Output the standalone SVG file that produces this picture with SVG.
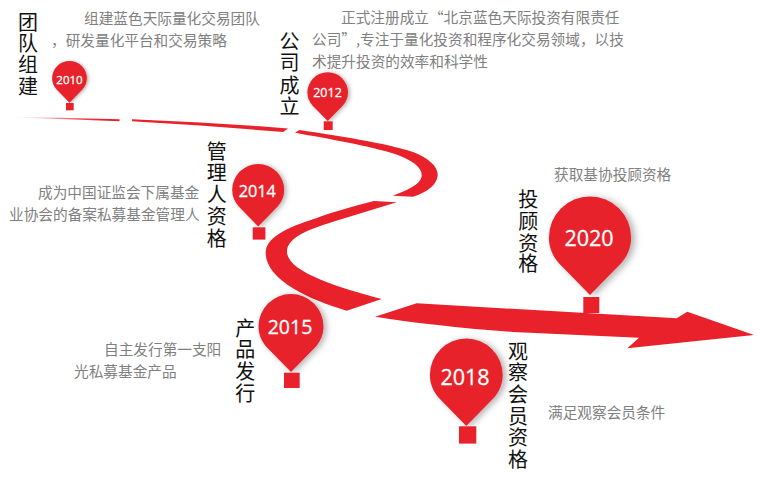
<svg xmlns="http://www.w3.org/2000/svg" width="760" height="496" viewBox="0 0 760 496">
<defs>
<style>
.d{font-family:"Noto Sans CJK SC","Liberation Sans",sans-serif;font-size:14.67px;fill:#808080}
.t{font-family:"Noto Sans CJK SC","Liberation Sans",sans-serif;font-size:20px;fill:#111;text-anchor:middle}
.y{font-family:"Open Sans","Liberation Sans",sans-serif;fill:#fff;stroke:#fff;stroke-width:.3px;text-anchor:middle}
.r{fill:#e8212b}
</style>
<filter id="s" x="-30%" y="-30%" width="170%" height="170%"><feDropShadow dx="3" dy="1" stdDeviation="3" flood-color="#000" flood-opacity=".3"/></filter>
<linearGradient id="fade" x1="10" y1="0" x2="100" y2="0" gradientUnits="userSpaceOnUse"><stop offset="0" stop-color="#e8212b" stop-opacity="0"/><stop offset="1" stop-color="#e8212b"/></linearGradient>
<path id="pin" d="M0 45.500L-24 21C-29.500 15-32.500 8-32.500 0A32.500 32.500 0 0 1 32.500 0C32.500 8 29.500 15 24 21Z"/>
</defs>
<g id="connectors">
<path fill="url(#fade)" d="M10 117.300L60 117.800L119.500 119.300L119.500 121.200L60 119Z"/>
<path class="r" d="M132 119.300L200 122.500L260 126.300L288 128.500L283.300 132L200 125.500L132 121.300Z"/>
<path class="r" d="M295 132.700L299.300 130C340 136 385 143 413 152C428 158 438 166 437.700 175C437 186 425 193 413 196.700L392.700 195.700C408 190 421.700 184 421.700 175C421.700 167 412 160 395 154C370 146 330 139 295 132.700Z"/>
<path class="r" d="M396.700 202.300L374 201C350 207 330 213 316.700 218C285 228 265.700 238 265.700 253C265.700 280 310 300 346.700 310.700L381.700 299C340 288 287 272 287 251.700C287 237 310 229 333 221.700Z"/>
<path class="r" d="M375 316.700L416.700 303.300L676.700 318.300L687.300 311.700L754 335L627.300 348.300L639 337.700L513 332C460 328 415 323 375 316.700Z"/>
</g>
<g id="n2010">
<use href="#pin" class="r" filter="url(#s)" transform="translate(69.500 78.300) scale(.535)"/>
<rect class="r" x="66" y="103" width="7.700" height="7.300"/>
<text class="y" x="69.500" y="83.500" font-size="11.500">2010</text>
<text class="t"><tspan x="28" y="29.500">团</tspan><tspan x="28" y="51">队</tspan><tspan x="28" y="71.500">组</tspan><tspan x="28" y="93.500">建</tspan></text>
<text class="d" x="84" y="24">组建蓝色天际量化交易团队</text>
<text class="d" x="51" y="46">，研发量化平台和交易策略</text>
</g>
<g id="n2012">
<use href="#pin" class="r" filter="url(#s)" transform="translate(327.700 92.600) scale(.625)"/>
<rect class="r" x="323.700" y="121.300" width="9" height="8.700"/>
<text class="y" x="327.500" y="97.300" font-size="12.500">2012</text>
<text class="t"><tspan x="289.500" y="48.500">公</tspan><tspan x="289.500" y="70">司</tspan><tspan x="289.500" y="92.500">成</tspan><tspan x="289.500" y="113.500">立</tspan></text>
<text class="d" x="341" y="23">正式注册成立“北京蓝色天际投资有限责任</text>
<text class="d" x="312" y="45">公司”,专注于量化投资和程序化交易领域，以技</text>
<text class="d" x="312" y="67">术提升投资的效率和科学性</text>
</g>
<g id="n2014">
<use href="#pin" class="r" filter="url(#s)" transform="translate(258.200 190) scale(.8)"/>
<rect class="r" x="252.700" y="227.300" width="12.700" height="12.300"/>
<text class="y" x="257.300" y="197.300" font-size="16.300">2014</text>
<text class="t"><tspan x="216.700" y="159">管</tspan><tspan x="216.700" y="180">理</tspan><tspan x="216.700" y="201.500">人</tspan><tspan x="216.700" y="223.500">资</tspan><tspan x="216.700" y="245.500">格</tspan></text>
<text class="d" x="38" y="198">成为中国证监会下属基金</text>
<text class="d" x="9" y="220">业协会的备案私募基金管理人</text>
</g>
<g id="n2015">
<use href="#pin" class="r" filter="url(#s)" transform="translate(291 326.500)"/>
<rect class="r" x="284" y="372.700" width="15.700" height="15.300"/>
<text class="y" x="290" y="334" font-size="19.500">2015</text>
<text class="t"><tspan x="245.300" y="336">产</tspan><tspan x="245.300" y="357">品</tspan><tspan x="245.300" y="378.500">发</tspan><tspan x="245.300" y="400.500">行</tspan></text>
<text class="d" x="104" y="355">自主发行第一支阳</text>
<text class="d" x="74" y="377">光私募基金产品</text>
</g>
<g id="n2018">
<use href="#pin" class="r" filter="url(#s)" transform="translate(466.300 375) scale(1.120)"/>
<rect class="r" x="459" y="426.300" width="17.300" height="17.300"/>
<text class="y" x="465" y="384.700" font-size="21.500">2018</text>
<text class="t"><tspan x="518" y="358.500">观</tspan><tspan x="518" y="380">察</tspan><tspan x="518" y="402">会</tspan><tspan x="518" y="423.500">员</tspan><tspan x="518" y="445">资</tspan><tspan x="518" y="467">格</tspan></text>
<text class="d" x="548" y="418">满足观察会员条件</text>
</g>
<g id="n2020">
<use href="#pin" class="r" filter="url(#s)" transform="translate(590 237.500) scale(1.265)"/>
<rect class="r" x="583.300" y="297" width="16" height="16"/>
<text class="y" x="589" y="246" font-size="21.500">2020</text>
<text class="t"><tspan x="528.300" y="206.500">投</tspan><tspan x="528.300" y="228.500">顾</tspan><tspan x="528.300" y="250.500">资</tspan><tspan x="528.300" y="271">格</tspan></text>
<text class="d" x="554" y="180">获取基协投顾资格</text>
</g>
</svg>
